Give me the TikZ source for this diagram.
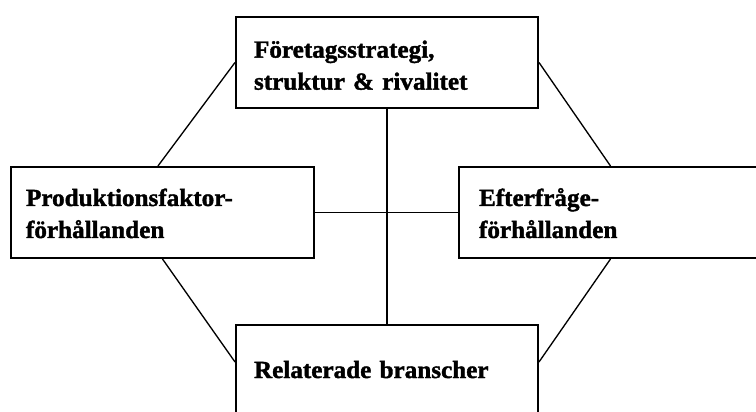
\documentclass[tikz,border=0pt]{standalone}
\usepackage{fontspec}
\setmainfont{Liberation Serif}[BoldFeatures={FakeBold=1.5, FakeStretch=1.02}]
\begin{document}
\begin{tikzpicture}[x=0.75pt, y=0.75pt,
    box/.style={draw, line width=1.5pt, rectangle, anchor=north west, align=left,
        inner ysep=0pt, font=\bfseries\fontsize{18.5}{24}\selectfont},
    link/.style={line width=1pt}]
    % Page frame
    \useasboundingbox (0,0) rectangle (756,411);
    \clip (0,0) rectangle (756,411);

    % The four corners of the diamond
    \node[box, inner xsep=13.5pt, text width=199.5pt, text height=30.5pt, text depth=37.75pt]
        (strategy) at (235,395) {Företagsstrategi,\\struktur \& rivalitet};
    \node[box, inner xsep=11.25pt, text width=204.75pt, text height=29.25pt, text depth=39pt]
        (factor) at (10,245) {Produktionsfaktor-\\förhållanden};
    \node[box, inner xsep=15pt, text width=197.25pt, text height=29.25pt, text depth=39pt]
        (demand) at (458,245) {Efterfråge-\\förhållanden};
    \node[box, inner xsep=13.5pt, text width=199.5pt, text height=39.75pt, text depth=28.5pt]
        (related) at (235,87) {Relaterade branscher};

    % Outer links
    \draw[link] (strategy.west) -- ([xshift=-3.4pt]factor.north);
    \draw[link] (strategy.east) -- (demand.north);
    \draw[link] (factor.south) -- ([yshift=6.4pt]related.west);
    \draw[link] (demand.south) -- ([yshift=6.4pt]related.east);

    % Cross links
    \draw[link] (factor) -- (demand);
    \draw[link] (strategy) -- (related);
\end{tikzpicture}
\end{document}
